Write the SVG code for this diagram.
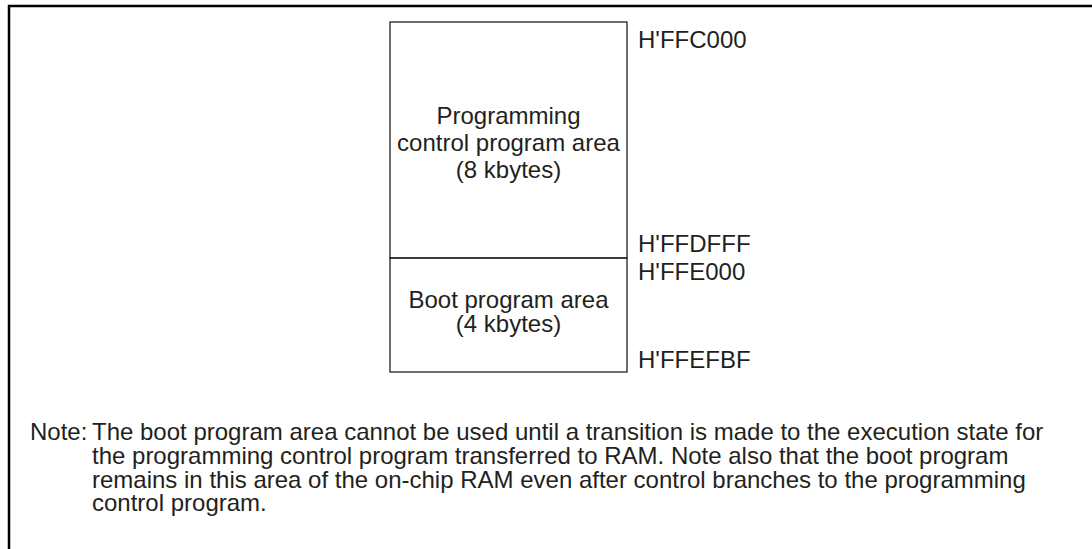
<svg xmlns="http://www.w3.org/2000/svg" width="1092" height="549" viewBox="0 0 1092 549">
<style>
  text { font-family: "Liberation Sans", Arial, sans-serif; font-size: 24px; fill: #231f20; }
  .c { text-anchor: middle; }
  .box { fill: none; stroke: #231f20; stroke-width: 1.3; }
  .frame { fill: none; stroke: #000; stroke-width: 2.5; }
</style>
<rect width="1092" height="549" fill="#fff"/>
<path class="frame" d="M9,549 V6 H1092"/>
<g id="prog-area">
  <rect class="box" x="390" y="22" width="237" height="236"/>
  <text class="c" x="508.5" y="124">Programming</text>
  <text class="c" x="508.5" y="151">control program area</text>
  <text class="c" x="508.5" y="178">(8 kbytes)</text>
</g>
<g id="boot-area">
  <rect class="box" x="390" y="258" width="237" height="114"/>
  <text class="c" x="508.5" y="308">Boot program area</text>
  <text class="c" x="508.5" y="332">(4 kbytes)</text>
</g>
<g id="addresses">
  <text x="638" y="48">H'FFC000</text>
  <text x="638" y="252">H'FFDFFF</text>
  <text x="638" y="280">H'FFE000</text>
  <text x="638" y="368">H'FFEFBF</text>
</g>
<g id="connectors"></g>
<g id="note">
  <text x="30" y="440">Note:</text>
  <text x="92" y="440">The boot program area cannot be used until a transition is made to the execution state for</text>
  <text x="92" y="464">the programming control program transferred to RAM. Note also that the boot program</text>
  <text x="92" y="487.5">remains in this area of the on-chip RAM even after control branches to the programming</text>
  <text x="92" y="511">control program.</text>
</g>
</svg>
